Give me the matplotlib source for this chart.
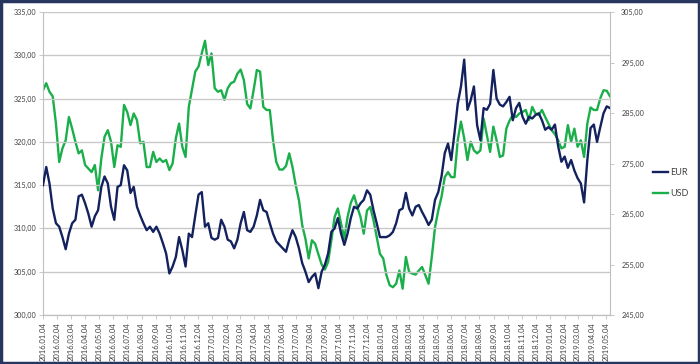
import matplotlib
matplotlib.use("Agg")
import matplotlib.pyplot as plt
import matplotlib.dates as mdates
import numpy as np
import pandas as pd

plt.rcParams['font.family'] = ['Lato', 'DejaVu Sans']

# weekly observations starting 2016-01-04
start_date = "2016-01-04"
eur = [315.0, 317.1, 315.2, 312.3, 310.6, 310.2, 309.0, 307.6, 309.4, 310.6,
       311.0, 313.7, 313.9, 312.9, 311.7, 310.2, 311.4, 312.1, 314.8, 316.0,
       315.2, 312.5, 311.0, 314.8, 315.0, 317.3, 316.7, 314.1, 314.8, 312.5,
       311.5, 310.6, 309.8, 310.2, 309.6, 310.2, 309.4, 308.3, 307.1, 304.8,
       305.6, 306.7, 309.0, 307.5, 305.6, 309.4, 309.0, 311.5, 313.9, 314.2,
       310.2, 310.6, 308.9, 308.7, 308.9, 311.0, 310.2, 308.7, 308.5, 307.7,
       308.7, 310.6, 311.9, 309.8, 309.6, 310.2, 311.5, 313.3, 312.1, 311.9,
       310.6, 309.4, 308.5, 308.1, 307.7, 307.3, 308.7, 309.8, 309.0, 307.7,
       306.0, 305.0, 303.8, 304.4, 304.8, 303.1, 305.0, 305.8, 307.1, 309.6,
       310.0, 311.2, 309.4, 308.1, 309.4, 311.2, 312.5, 312.3, 312.9, 313.3,
       314.4, 313.9, 312.1, 310.6, 309.0, 309.0, 309.0, 309.2, 309.6, 310.6,
       312.1, 312.3, 314.1, 312.3, 311.5, 312.5, 312.7, 311.9, 311.2, 310.4,
       311.0, 313.3, 314.2, 316.0, 318.7, 319.8, 317.9, 321.0, 324.4, 326.4,
       329.5, 323.7, 324.8, 326.4, 321.9, 320.2, 323.9, 323.7, 324.4, 328.3,
       325.0, 324.3, 324.1, 324.6, 325.2, 322.5, 323.9, 324.5, 322.9, 322.1,
       322.9, 322.7, 323.1, 323.3, 322.5, 321.4, 321.7, 321.4, 322.0, 319.5,
       317.7, 318.3, 317.0, 317.9, 316.7, 315.8, 315.2, 313.0, 317.9, 321.6,
       322.0, 320.0, 321.7, 323.3, 324.1, 323.9]
usd = [289.5, 290.9, 289.2, 288.3, 282.9, 275.3, 278.0, 279.6, 284.2, 281.9,
       279.3, 277.0, 277.6, 274.7, 274.0, 273.3, 274.7, 269.7, 276.0, 280.3,
       281.6, 279.3, 274.3, 278.6, 278.3, 286.6, 285.2, 282.6, 284.9, 283.6,
       279.0, 279.3, 274.3, 274.3, 277.3, 275.3, 276.0, 275.3, 275.7, 273.7,
       275.0, 280.0, 282.9, 278.3, 276.3, 286.2, 289.7, 293.2, 294.2, 296.8,
       299.3, 294.5, 296.8, 289.9, 289.2, 289.5, 287.6, 289.9, 290.9, 291.2,
       292.8, 293.6, 291.5, 286.8, 285.9, 289.5, 293.5, 293.2, 286.2, 285.6,
       285.6, 279.6, 275.3, 273.8, 273.8, 274.5, 277.0, 274.3, 270.7, 267.7,
       262.8, 260.1, 256.2, 259.8, 259.1, 257.0, 255.0, 254.0, 255.5, 259.8,
       264.4, 266.1, 263.1, 260.1, 264.4, 267.2, 268.7, 266.4, 264.4, 261.1,
       265.7, 266.4, 263.8, 260.5, 257.1, 256.2, 252.9, 250.9, 250.5, 251.2,
       253.8, 250.2, 256.5, 253.5, 253.2, 253.0, 253.8, 254.5, 252.9, 251.2,
       256.5, 262.4, 265.7, 268.4, 272.3, 273.3, 272.3, 272.3, 279.6, 283.3,
       280.0, 275.7, 279.3, 277.6, 277.0, 277.6, 283.9, 280.6, 277.3, 282.3,
       279.6, 276.3, 276.6, 281.9, 283.5, 284.6, 284.2, 284.9, 285.2, 285.6,
       283.6, 286.2, 284.9, 284.6, 285.6, 284.2, 282.9, 281.6, 280.8, 279.6,
       278.0, 278.3, 282.6, 279.3, 281.9, 278.3, 279.6, 276.3, 282.9, 286.1,
       285.6, 285.6, 287.9, 289.5, 289.4, 288.3]
series_names = ["EUR", "USD"]
left_ticks = [300, 305, 310, 315, 320, 325, 330, 335]
right_ticks = [245, 255, 265, 275, 285, 295, 305]

dates = pd.date_range(start_date, periods=len(eur), freq="7D")
tick_dates = pd.date_range("2016-01-01", "2019-05-01", freq="MS") + pd.Timedelta(days=3)

navy = "#13215E"
green = "#1BAF4B"
grid_c = "#C8C8C8"

fig = plt.figure(figsize=(7.0, 3.64), dpi=100)
fig.patch.set_facecolor("white")
ax = fig.add_axes([43/700, 1-315/364, (610-43)/700, (315-12)/364])
ax2 = ax.twinx()

l1, = ax.plot(dates, eur, color=navy, lw=1.7, label="EUR", zorder=3)
l2, = ax2.plot(dates, usd, color=green, lw=1.7, label="USD", zorder=2)
ax.set_zorder(ax2.get_zorder() + 1)
ax.patch.set_visible(False)

ax.set_ylim(300, 335)
ax2.set_ylim(245, 305)
ax.set_yticks(left_ticks)
ax2.set_yticks(right_ticks)
ax.set_yticklabels([f"{v:.2f}".replace(".", ",") for v in left_ticks])
ax2.set_yticklabels([f"{v:.2f}".replace(".", ",") for v in right_ticks])
ax.set_xlim(pd.Timestamp("2016-01-04"), pd.Timestamp("2019-05-13"))
ax.set_xticks(tick_dates)
ax.set_xticklabels([d.strftime("%Y.%m.%d") for d in tick_dates], rotation=90)

ax.yaxis.grid(True, color=grid_c, lw=1.0, zorder=0)
ax.set_axisbelow(True)
for a in (ax, ax2):
    a.spines['top'].set_visible(False)
    for s in ('left', 'right', 'bottom'):
        a.spines[s].set_color("#BFBFBF")
        a.spines[s].set_linewidth(0.8)
    a.tick_params(axis='both', colors="#BFBFBF", labelcolor="#404040",
                  labelsize=5.2, length=3, width=0.6, pad=2)
ax2.spines['left'].set_visible(False)
ax.spines['right'].set_visible(False)
ax.tick_params(axis='x', labelsize=5.5, pad=2)
ax2.tick_params(axis='y', pad=5)

fig.legend(handles=[l1, l2], labels=series_names, loc="center left",
           bbox_to_anchor=(653/700, 1-183/364), frameon=False, fontsize=6.5,
           handlelength=1.7, handletextpad=0.2, labelspacing=1.3,
           borderpad=0, borderaxespad=0, labelcolor="#404040")

# outer border
fig.add_artist(plt.Rectangle((0.002, 0.003), 0.996, 0.994, transform=fig.transFigure,
                             fill=False, edgecolor="#26365F", lw=2.5))

fig.savefig("out.png", dpi=100)
